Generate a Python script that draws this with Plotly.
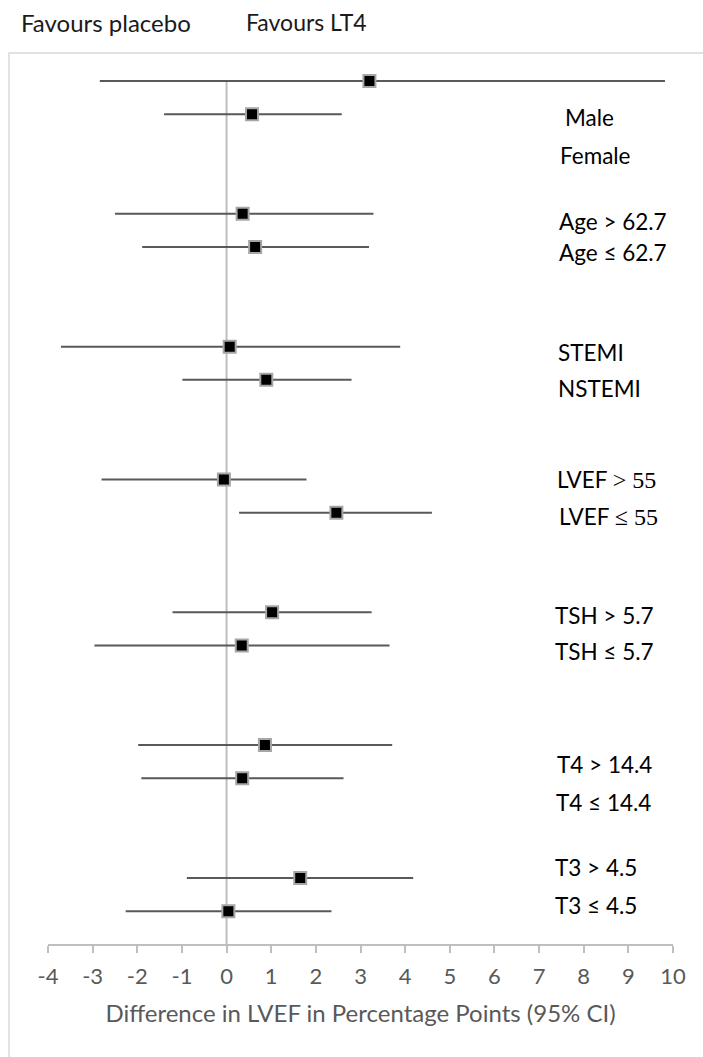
import plotly.graph_objects as go

# Subgroup estimates: difference in LVEF (percentage points) with 95% CI
subgroups = ["Male", "Female", "Age > 62.7", "Age ≤ 62.7", "STEMI", "NSTEMI",
             "LVEF > 55", "LVEF ≤ 55", "TSH > 5.7", "TSH ≤ 5.7",
             "T4 > 14.4", "T4 ≤ 14.4", "T3 > 4.5", "T3 ≤ 4.5"]
estimate = [3.2, 0.57, 0.36, 0.64, 0.07, 0.89, -0.06, 2.46, 1.02, 0.34, 0.86, 0.35, 1.65, 0.04]
ci_low = [-2.84, -1.40, -2.50, -1.89, -3.71, -0.99, -2.80, 0.28, -1.21, -2.96, -1.98, -1.91, -0.89, -2.26]
ci_high = [9.82, 2.58, 3.29, 3.19, 3.89, 2.80, 1.79, 4.60, 3.25, 3.65, 3.71, 2.62, 4.18, 2.35]
x_ticks = list(range(-4, 11))

# Row slots: pairs of rows, one blank pair between groups
row_y = [4 * (i // 2) + (i % 2) for i in range(len(estimate))]
# Vertical slot of each subgroup's text label
label_y = [1.11, 2.23, 4.24, 5.17, 8.19, 9.25, 11.99, 13.12, 16.11, 17.19, 20.57, 21.74, 23.70, 24.84]
label_left_px = [563, 557.7, 556.7, 556.7, 556, 556, 555, 557.3, 552.7, 552.7, 555, 554.3, 552.7, 553]

W, H = 703, 1057
ML, MR, MT, MB = 48, 30, 53, 113
PW, PH = W - ML - MR, H - MT - MB
Y_TOP, Y_BOTTOM = -0.843, 25.99

FONT = "Lato, 'Open Sans', sans-serif"
SERIF = "'Liberation Serif', 'DejaVu Serif', serif"


def px_x(px):
    return (px - ML) / PW


def px_y(py):
    return 1 - (py - MT) / PH


fig = go.Figure()

# reference line at zero
fig.add_trace(go.Scatter(
    x=[0, 0], y=[row_y[0], Y_BOTTOM], mode="lines",
    line=dict(color="#bfbfbf", width=2), hoverinfo="skip", showlegend=False))

fig.add_trace(go.Scatter(
    x=estimate, y=row_y, mode="markers",
    marker=dict(symbol="square", size=12, color="#000000",
                line=dict(color="#a6a6a6", width=2)),
    error_x=dict(type="data", symmetric=False,
                 array=[h - e for h, e in zip(ci_high, estimate)],
                 arrayminus=[e - l for e, l in zip(estimate, ci_low)],
                 color="#595959", thickness=2, width=0),
    text=subgroups, hovertemplate="%{text}: %{x}<extra></extra>",
    showlegend=False))


def fmt_label(s):
    if s.startswith("LVEF"):
        head, tail = s.split(" ", 1)
        return (f"{head} <span style=\"font-family:{SERIF};font-size:24px\">"
                f"{tail.replace('>', '&gt;')}</span>")
    return s.replace(">", "&gt;")


annotations = []
for name, ly, lx in zip(subgroups, label_y, label_left_px):
    annotations.append(dict(
        x=px_x(lx), xref="paper", y=ly, yref="y", text=fmt_label(name),
        showarrow=False, xanchor="left", yanchor="middle",
        font=dict(family=FONT, size=22.5, color="#000000")))

annotations += [
    dict(x=px_x(19), xref="paper", y=px_y(22), yref="paper", text="Favours placebo",
         showarrow=False, xanchor="left", yanchor="middle",
         font=dict(family=FONT, size=24, color="#1a1a1a")),
    dict(x=px_x(244), xref="paper", y=px_y(22), yref="paper", text="Favours LT4",
         showarrow=False, xanchor="left", yanchor="middle",
         font=dict(family=FONT, size=23, color="#1a1a1a")),
]

# chart frame
shapes = [dict(type="rect", xref="paper", yref="paper",
               x0=px_x(9), x1=px_x(W + 20), y0=px_y(H + 20), y1=px_y(53),
               line=dict(color="#d9d9d9", width=1.5), layer="below")]

fig.update_layout(
    width=W, height=H,
    margin=dict(l=ML, r=MR, t=MT, b=MB),
    paper_bgcolor="white", plot_bgcolor="white",
    font=dict(family=FONT),
    xaxis=dict(range=[-4, 10], tickvals=x_ticks, ticktext=[str(t) for t in x_ticks],
               showgrid=False, zeroline=False, showline=True,
               linecolor="#bfbfbf", linewidth=2,
               ticks="outside", ticklen=7, tickwidth=2, tickcolor="#bfbfbf",
               ticklabelstandoff=5,
               tickfont=dict(family=FONT, size=22, color="#595959"),
               title=dict(text="Difference in LVEF in Percentage Points (95% CI)",
                          font=dict(family=FONT, size=24, color="#595959"),
                          standoff=17)),
    yaxis=dict(range=[Y_BOTTOM, Y_TOP], visible=False, showgrid=False, zeroline=False),
    annotations=annotations, shapes=shapes,
)

fig.write_html("out.html")
